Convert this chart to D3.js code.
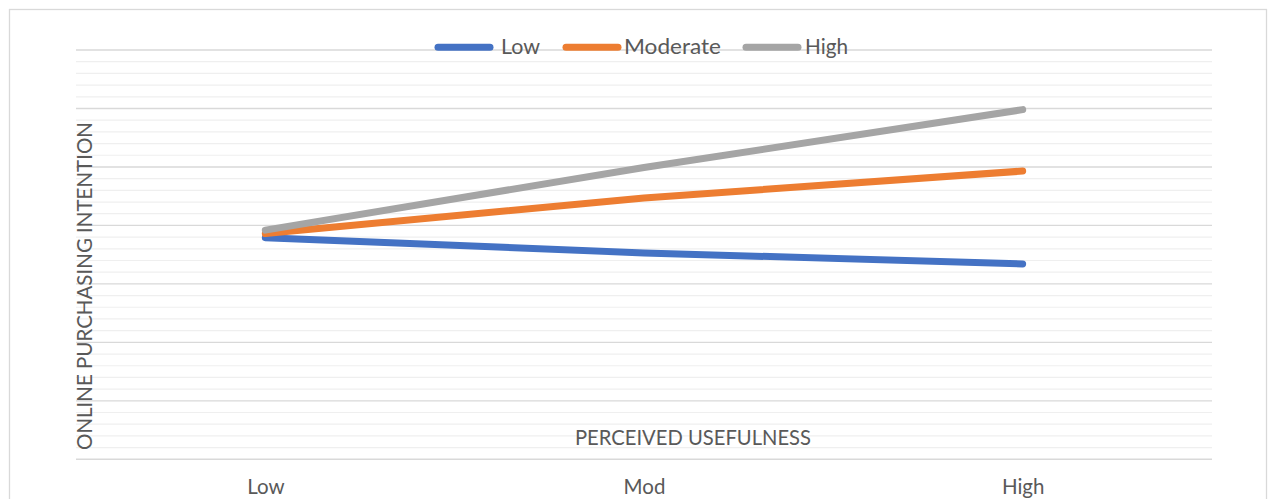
<!DOCTYPE html>
<html>
<head>
<meta charset="utf-8">
<script src="https://cdn.jsdelivr.net/npm/d3@7/dist/d3.min.js"></script>
<style>
  html, body { margin: 0; padding: 0; background: #fff; }
  svg { display: block; }
  text { font-family: Lato, "Open Sans", sans-serif; fill: #595959; }
</style>
</head>
<body>
<svg id="chart" width="1268" height="499"></svg>
<script>
// ---- data ----
const categories = ["Low", "Mod", "High"];
const seriesNames = ["Low", "Moderate", "High"];
const lowValues = [3.79, 3.53, 3.34];
const moderateValues = [3.86, 4.47, 4.93];
const highValues = [3.92, 4.99, 5.98];
const majorTicks = [0, 1, 2, 3, 4, 5, 6, 7];
const xTitle = "PERCEIVED USEFULNESS";
const yTitle = "ONLINE PURCHASING INTENTION";

const seriesValues = [lowValues, moderateValues, highValues];
const colors = ["#4472C4", "#ED7D31", "#A5A5A5"];

const svg = d3.select("#chart");
const plot = { left: 76, right: 1212, top: 50, bottom: 459.3 };

// outer chart border
svg.append("rect")
  .attr("x", 9.5).attr("y", 9.5)
  .attr("width", 1257).attr("height", 520)
  .attr("fill", "#fff").attr("stroke", "#d9d9d9").attr("stroke-width", 1.3);

const x = d3.scalePoint().domain(categories).range([plot.left, plot.right]).padding(0.5);
const y = d3.scaleLinear().domain([0, 7]).range([plot.bottom, plot.top]);

// minor gridlines
const minorTicks = d3.range(0, 7.0001, 0.2).filter(v => Math.abs(v - Math.round(v)) > 1e-6);
svg.append("g").selectAll("line").data(minorTicks).join("line")
  .attr("x1", plot.left).attr("x2", plot.right)
  .attr("y1", d => y(d)).attr("y2", d => y(d))
  .attr("stroke", "#efefef").attr("stroke-width", 1.2);

// major gridlines
svg.append("g").selectAll("line").data(majorTicks).join("line")
  .attr("x1", plot.left).attr("x2", plot.right)
  .attr("y1", d => y(d)).attr("y2", d => y(d))
  .attr("stroke", "#d9d9d9").attr("stroke-width", 1.4);

// category axis labels
const xAxis = d3.axisBottom(x).tickSize(0).tickPadding(0);
const gx = svg.append("g").attr("transform", `translate(0,${plot.bottom})`).call(xAxis);
gx.select(".domain").remove();
gx.selectAll("text")
  .attr("dy", null).attr("y", 35)
  .style("font-family", "Lato, 'Open Sans', sans-serif")
  .style("font-size", "20.5px").style("fill", "#595959");

// axis titles
svg.append("text")
  .attr("x", 693).attr("y", 445)
  .attr("text-anchor", "middle")
  .attr("font-size", 20.5)
  .attr("textLength", 236).attr("lengthAdjust", "spacingAndGlyphs")
  .text(xTitle);

svg.append("text")
  .attr("transform", "translate(91.5,286) rotate(-90)")
  .attr("text-anchor", "middle")
  .attr("font-size", 20.5)
  .attr("textLength", 328).attr("lengthAdjust", "spacingAndGlyphs")
  .text(yTitle);

// lines
const line = d3.line().x((d, i) => x(categories[i])).y(d => y(d));
svg.append("g").selectAll("path").data(seriesValues).join("path")
  .attr("d", d => line(d))
  .attr("fill", "none")
  .attr("stroke", (d, i) => colors[i])
  .attr("stroke-width", 7)
  .attr("stroke-linecap", "round")
  .attr("stroke-linejoin", "round");

// legend
const legendItems = [
  { x1: 438, x2: 490, tx: 501, tw: 39 },
  { x1: 566, x2: 618, tx: 624, tw: 97 },
  { x1: 746, x2: 798, tx: 805, tw: 43 }
];
const lg = svg.append("g");
seriesNames.forEach((name, i) => {
  const it = legendItems[i];
  lg.append("line")
    .attr("x1", it.x1).attr("x2", it.x2)
    .attr("y1", 47.3).attr("y2", 47.3)
    .attr("stroke", colors[i]).attr("stroke-width", 7)
    .attr("stroke-linecap", "round");
  lg.append("text")
    .attr("x", it.tx).attr("y", 53.5)
    .attr("font-size", 20.5)
    .attr("textLength", it.tw).attr("lengthAdjust", "spacingAndGlyphs")
    .text(name);
});
</script>
</body>
</html>
